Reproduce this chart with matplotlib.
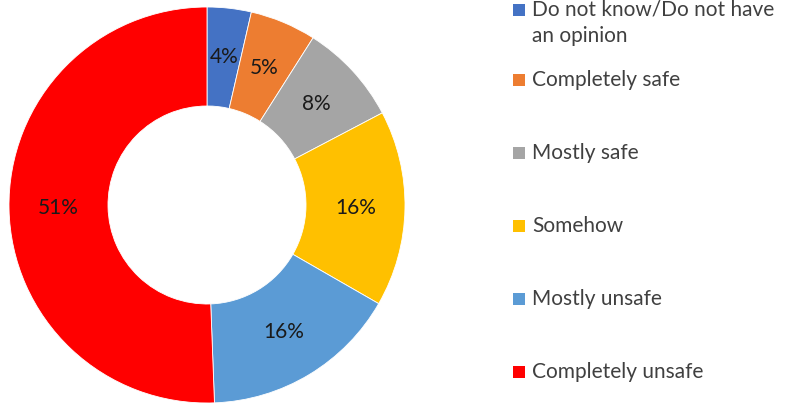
import matplotlib
matplotlib.use("Agg")
import matplotlib.pyplot as plt
from matplotlib.patches import Rectangle

categories = ["Do not know/Do not have\nan opinion", "Completely safe", "Mostly safe",
              "Somehow", "Mostly unsafe", "Completely unsafe"]
values = [3.6, 5.4, 8.3, 16.0, 16.1, 50.6]
colors = ["#4472C4", "#ED7D31", "#A5A5A5", "#FFC000", "#5B9BD5", "#FF0000"]

plt.rcParams['font.family'] = ['Lato', 'DejaVu Sans']

W, H = 785, 405
fig = plt.figure(figsize=(W / 100, H / 100), dpi=100)
ax = fig.add_axes([9 / W, 2 / H, 396 / W, 396 / H])
wedges, texts, autotexts = ax.pie(
    values, colors=colors, startangle=90, counterclock=False, radius=1.0,
    wedgeprops=dict(width=0.5, edgecolor="white", linewidth=0.6),
    autopct=lambda p: f"{p:.0f}%", pctdistance=0.75,
    textprops=dict(fontsize=15, color="#1a1a1a"))
ax.set_xlim(-1, 1)
ax.set_ylim(-1, 1)
ax.set_aspect("equal")
ax.axis("off")

# legend drawn manually
legend_y = [10, 80, 153, 226, 299, 372]
line_gap = 26
for lab, col, yy in zip(categories, colors, legend_y):
    fig.patches.append(Rectangle((513 / W, 1 - (yy + 6) / H), 12 / W, 12 / H,
                                 transform=fig.transFigure, facecolor=col,
                                 edgecolor="none"))
    for k, line in enumerate(lab.split("\n")):
        fig.text(532 / W, 1 - (yy + k * line_gap) / H, line, fontsize=15,
                 color="#404040", ha="left", va="center")

fig.savefig("out.png", dpi=100)
